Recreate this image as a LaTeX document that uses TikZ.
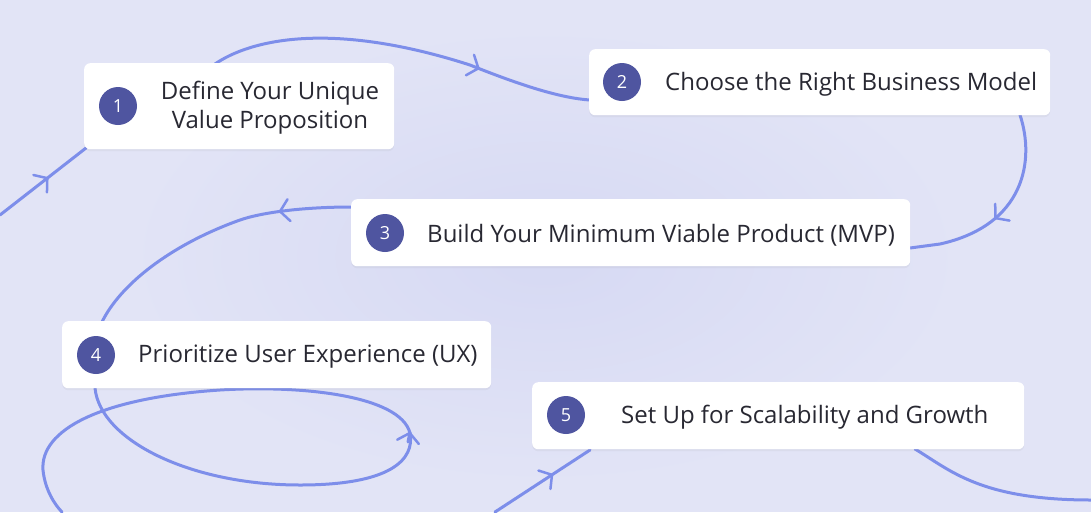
\documentclass[tikz,border=0pt]{standalone}
\usepackage{fontspec}
\setmainfont{Open Sans}
\usetikzlibrary{decorations.markings,arrows.meta,shadows}
\definecolor{bg}{RGB}{226,228,246}
\definecolor{bgc}{RGB}{214,217,243}
\definecolor{line}{RGB}{125,142,234}
\definecolor{num}{RGB}{79,85,160}
\definecolor{txt}{RGB}{40,40,50}
\tikzset{
  x=1pt,y=-1pt,
  card/.style={fill=white,rounded corners=6pt,draw=none,drop shadow={opacity=0.08,shadow xshift=0pt,shadow yshift=-2pt}},
  numc/.style={circle,fill=num,text=white,minimum size=38pt,inner sep=0pt,font=\fontsize{18}{20}\selectfont},
  lab/.style={text=txt,font=\fontsize{24}{29}\selectfont,inner sep=0pt},
  flow/.style={draw=line,line width=3pt,line cap=round},
  chev/.style={postaction={decorate},decoration={markings,mark=at position #1 with {\draw[line,line width=2.5pt,line cap=round,line join=miter] (-9pt,-11pt) -- (0pt,0pt) -- (-9pt,11pt);}}}
}
\begin{document}
\begin{tikzpicture}
\useasboundingbox (0,0) rectangle (1091,512);
\fill[bg] (0,0) rectangle (1091,512);
\shade[inner color=bgc,outer color=bg,draw=none] (545,256) ellipse (420 and 230);
% connectors
\draw[flow,chev=0.55] (0,215) -- (86,148) coordinate (a1);
\coordinate (b1s) at (215,64);
\draw[flow,chev=0.7] (b1s) .. controls (250,40) and (330,20) .. (470,65) .. controls (520,85) and (560,98) .. (590,100) coordinate (b2w);
\draw[flow,chev=0.55] (1020,115) .. controls (1035,160) and (1025,225) .. (940,244) -- (910,248) coordinate (b3e);
\draw[flow,chev=0.25] (352,207) .. controls (300,207) and (260,213) .. (240,220) .. controls (170,245) and (120,285) .. (102,322) coordinate (b4n);
\draw[flow] (95,388) .. controls (100,440) and (190,485) .. (300,485) .. controls (390,485) and (415,460) .. (410,433)
  .. controls (400,395) and (300,385) .. (220,390) .. controls (100,398) and (40,430) .. (43,470) .. controls (45,490) and (55,505) .. (62,512);
\draw[flow,chev=0.9] (408,442) -- (410,432);
\draw[flow,chev=0.6] (495,512) -- (590,450) coordinate (b5s);
\draw[flow] (915,449) .. controls (950,470) and (980,500) .. (1091,500);
% cards
\node[card,minimum width=310pt,minimum height=86pt,anchor=north west] (c1) at (84,63) {};
\node[card,minimum width=461pt,minimum height=66pt,anchor=north west] (c2) at (589,49) {};
\node[card,minimum width=559pt,minimum height=67pt,anchor=north west] (c3) at (351,199) {};
\node[card,minimum width=429pt,minimum height=67pt,anchor=north west] (c4) at (62,321) {};
\node[card,minimum width=492pt,minimum height=67pt,anchor=north west] (c5) at (532,382) {};
\node[numc] (n1) at (118,106) {1};
\node[numc] (n2) at (622,82) {2};
\node[numc] (n3) at (385,233) {3};
\node[numc] (n4) at (96,355) {4};
\node[numc] (n5) at (566,415) {5};
\node[lab,align=center] (t1) at (270,108) {Define Your Unique\\Value Proposition};
\node[lab,anchor=west] (t2) at (665,84) {Choose the Right Business Model};
\node[lab,anchor=west] (t3) at (427,235) {Build Your Minimum Viable Product (MVP)};
\node[lab,anchor=west] (t4) at (138,357) {Prioritize User Experience (UX)};
\node[lab,anchor=west] (t5) at (621,417) {Set Up for Scalability and Growth};
\end{tikzpicture}
\end{document}
